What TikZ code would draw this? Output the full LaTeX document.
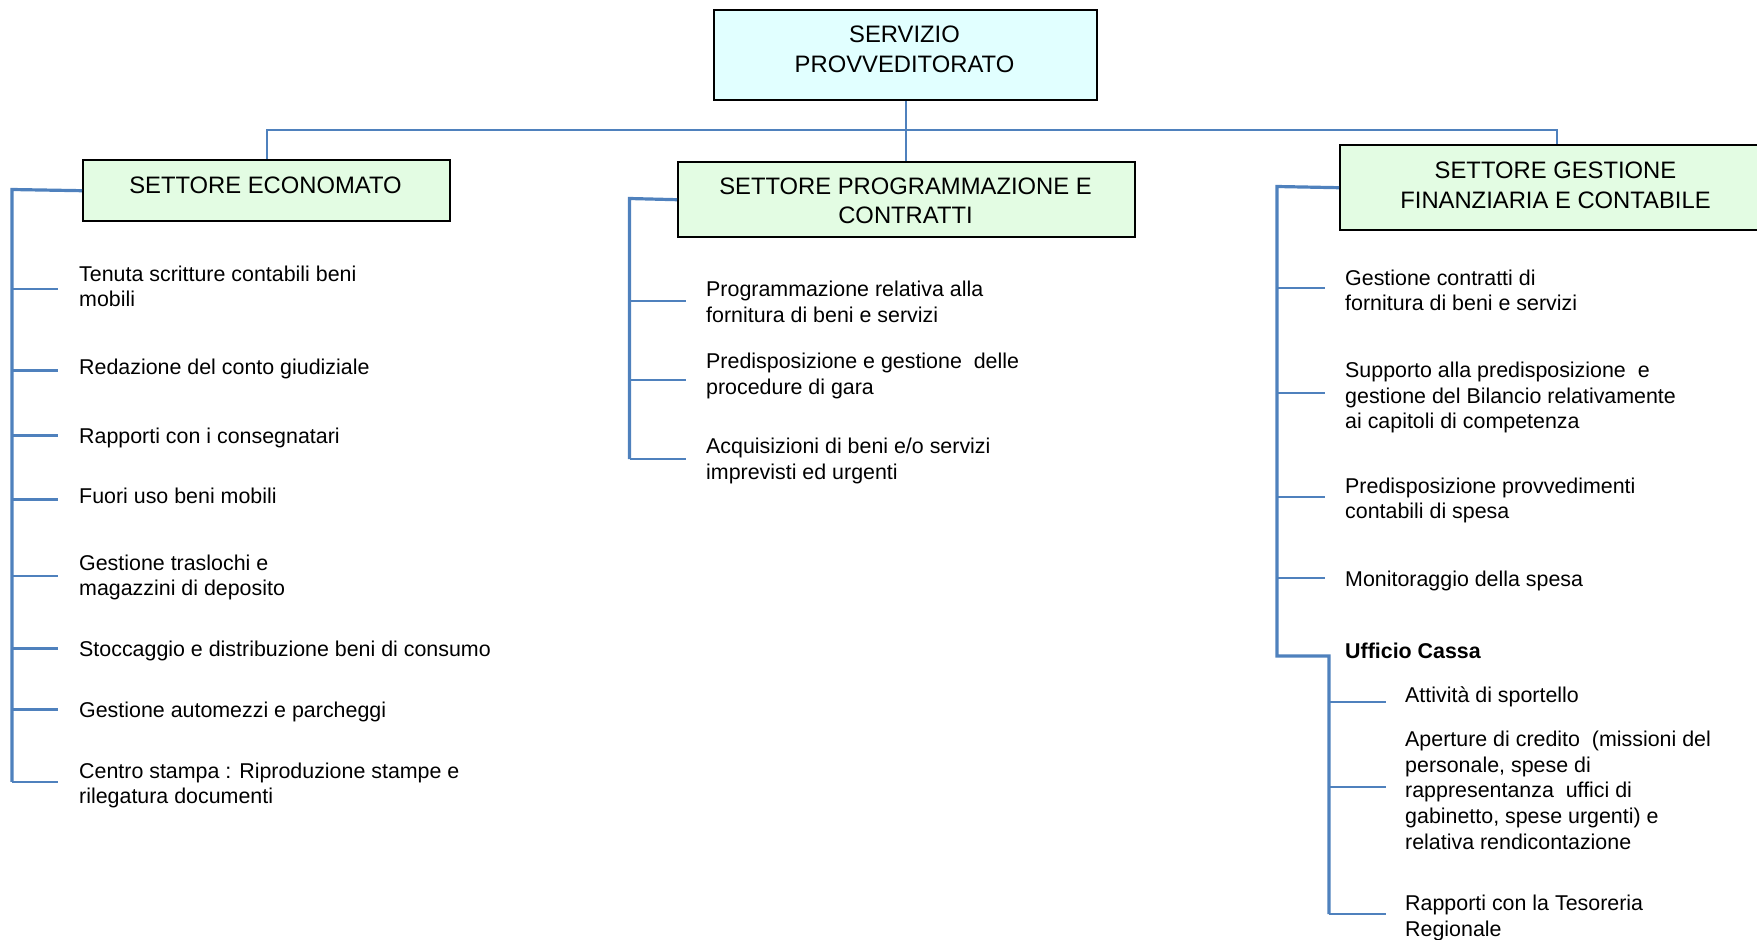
\documentclass[tikz,border=0pt]{standalone}
\usepackage{fontspec}
\setmainfont{Liberation Sans}
\definecolor{lineblue}{HTML}{4F81BD}
\definecolor{boxgreen}{HTML}{E3FCE3}
\definecolor{boxcyan}{HTML}{E1FFFF}
\newcommand\itemfnt{\fontsize{21.4}{25.6}\selectfont}
\newcommand\boxfnt{\fontsize{23.8}{29.5}\selectfont}
\begin{document}
\begin{tikzpicture}[x=1pt,y=-1pt,
  boxshape/.style={draw=black,line width=2.4pt,inner sep=0pt,anchor=north west},
  boxtext/.style={anchor=north,inner sep=0pt,align=center,font=\boxfnt},
  itemtext/.style={anchor=north west,inner sep=0pt,align=left,font=\itemfnt},
  bus/.style={draw=lineblue,line width=2.2pt,line join=miter},
  trunk/.style={draw=lineblue,line width=3.2pt,line join=miter},
  tickline/.style={draw=lineblue,line width=2.4pt}]
\useasboundingbox (0,0) rectangle (1757,940);

% boxes
\node[boxshape,fill=boxcyan,minimum width=383pt,minimum height=90pt] (top) at (713,9) {};
\node[boxshape,fill=boxgreen,minimum width=367pt,minimum height=61pt] (b1) at (82,159) {};
\node[boxshape,fill=boxgreen,minimum width=457pt,minimum height=75pt] (b2) at (677,161) {};
\node[boxshape,fill=boxgreen,minimum width=433pt,minimum height=85pt] (b3) at (1339,144) {};

\node[boxtext] (toptext) at (904.5,26) {SERVIZIO\\PROVVEDITORATO};
\node[boxtext] (b1text) at (265.5,176.3) {SETTORE ECONOMATO};
\node[boxtext] (b2text) at (905.5,177.4) {SETTORE PROGRAMMAZIONE E\\CONTRATTI};
\node[boxtext] (b3text) at (1555.5,161.7) {SETTORE GESTIONE\\FINANZIARIA E CONTABILE};

% top-level connectors
\coordinate (busmid) at (904.5,130);
\draw[bus] (top.south) -- (top.south |- b2.north);
\draw[bus] (b1.north) -- (b1.north |- busmid) -- (b3.north |- busmid) -- (b3.north);

% left branch
\coordinate (Ltop) at (12,189.5);
\coordinate (Lbot) at (12,781.9);
\draw[trunk] (b1.west) -- (Ltop) -- (Lbot);
\foreach \y in {289.2,370.5,435.3,499.5,575.8,648.3,709.4,781.9}
  \draw[tickline] (12,\y) -- (58,\y);

\node[itemtext] (l1) at (79,265.5) {Tenuta scritture contabili beni\\mobili};
\node[itemtext] (l2) at (79,359) {Redazione del conto giudiziale};
\node[itemtext] (l3) at (79,427.3) {Rapporti con i consegnatari};
\node[itemtext] (l4) at (79,488) {Fuori uso beni mobili};
\node[itemtext] (l5) at (79,554.4) {Gestione traslochi e\\magazzini di deposito};
\node[itemtext] (l6) at (79,640.3) {Stoccaggio e distribuzione beni di consumo};
\node[itemtext] (l7) at (79,701.3) {Gestione automezzi e parcheggi};
\node[itemtext] (l8) at (79,762.4) {Centro stampa : Riproduzione stampe e\\rilegatura documenti};

% middle branch
\coordinate (Mtop) at (629.5,198.5);
\coordinate (Mbot) at (629.5,459);
\draw[trunk] (b2.west) -- (Mtop) -- (Mbot);
\foreach \y in {301,380,459}
  \draw[tickline] (629.5,\y) -- (686,\y);

\node[itemtext] (m1) at (706,280.7) {Programmazione relativa alla\\fornitura di beni e servizi};
\node[itemtext] (m2) at (706,353) {Predisposizione e gestione~ delle\\procedure di gara};
\node[itemtext] (m3) at (706,438) {Acquisizioni di beni e/o servizi\\imprevisti ed urgenti};

% right branch
\coordinate (Rtop) at (1277,186.5);
\coordinate (Rcorner) at (1277,656);
\coordinate (Scorner) at (1329,656);
\coordinate (Sbot) at (1329,914.1);
\draw[trunk] (b3.west) -- (Rtop) -- (Rcorner) -- (Scorner) -- (Sbot);
\foreach \y in {288.2,393.1,497.1,578}
  \draw[tickline] (1277,\y) -- (1325,\y);
\foreach \y in {702,786.9,914.1}
  \draw[tickline] (1329,\y) -- (1386,\y);

\node[itemtext] (r1) at (1345,269.3) {Gestione contratti di\\fornitura di beni e servizi};
\node[itemtext] (r2) at (1345,361.7) {Supporto alla predisposizione~ e\\gestione del Bilancio relativamente\\ai capitoli di competenza};
\node[itemtext] (r3) at (1345,477.4) {Predisposizione provvedimenti\\contabili di spesa};
\node[itemtext] (r4) at (1345,570.7) {Monitoraggio della spesa};
\node[itemtext,font=\itemfnt\bfseries] (r5) at (1345,643) {Ufficio Cassa};
\node[itemtext] (s1) at (1405,686.7) {Attività di sportello};
\node[itemtext] (s2) at (1405,731) {Aperture di credito~ (missioni del\\personale, spese di\\rappresentanza~ uffici di\\gabinetto, spese urgenti) e\\relativa rendicontazione};
\node[itemtext] (s3) at (1405,895.2) {Rapporti con la Tesoreria\\Regionale};
\end{tikzpicture}
\end{document}
